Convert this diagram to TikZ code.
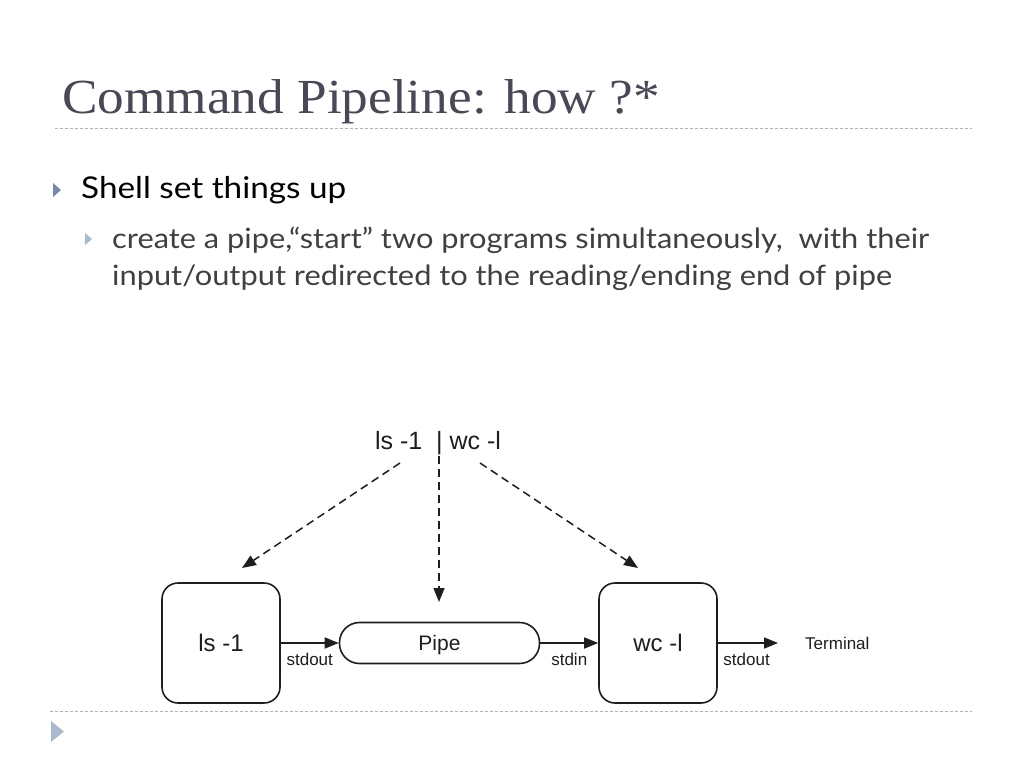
\documentclass[tikz,border=0pt]{standalone}
\usepackage{fontspec}
\setmainfont{Liberation Serif}
\newfontfamily\bodyfont{Lato}
\newfontfamily\diafont{Liberation Sans}
\usetikzlibrary{arrows.meta}
\definecolor{titlec}{RGB}{72,72,86}
\definecolor{sepc}{RGB}{165,182,204}
\definecolor{bulletc}{RGB}{120,136,168}
\definecolor{bulletl}{RGB}{168,186,206}
\definecolor{subc}{RGB}{64,64,64}
\definecolor{diac}{RGB}{30,30,30}
\tikzset{
  sepline/.style={sepc, line width=1pt, dash pattern=on 3pt off 2pt},
  prog/.style={draw=diac, line width=1.6pt, rounded corners=16pt, minimum width=118pt, minimum height=120pt, font=\diafont\fontsize{24}{24}\selectfont, text=diac, inner sep=0pt},
  pipebox/.style={draw=diac, line width=1.6pt, rounded corners=20pt, minimum width=200pt, minimum height=41pt, font=\diafont\fontsize{21}{21}\selectfont, text=diac, inner sep=0pt, text depth=0pt},
  arr/.style={diac, line width=1.6pt, -{Triangle[length=14pt,width=11pt]}},
  darr/.style={diac, line width=1.5pt, dash pattern=on 8pt off 5pt, -{Triangle[length=14pt,width=11pt]}},
  small/.style={font=\diafont\fontsize{17}{17}\selectfont, text=diac, inner sep=0pt},
}
\begin{document}
\begin{tikzpicture}[x=1pt,y=-1pt]
\useasboundingbox[fill=white] (0,0) rectangle (1024,768);
% title
\node[anchor=base west, inner sep=0pt, text=titlec, font=\fontsize{49}{49}\selectfont] (title) at (62,113) {\scalebox{1.087}[1]{Command Pipeline: how ?*}};
\draw[sepline] (55,128) -- (972,128);
\draw[sepline] (50,711) -- (972,711);
% bullets
\fill[bulletc] (53,183) -- (61,190) -- (53,197) -- cycle;
\fill[bulletl] (85,233) -- (92,239) -- (85,245) -- cycle;
\fill[bulletl] (51,721) -- (64,731.5) -- (51,742) -- cycle;
\node[anchor=base west, inner sep=0pt, font=\bodyfont\fontsize{30}{30}\selectfont] (b1) at (81,198) {\scalebox{1.11}[1]{Shell set things up}};
\node[anchor=base west, inner sep=0pt, text=subc, font=\bodyfont\fontsize{28}{28}\selectfont] (b2) at (112,248) {\scalebox{1.1}[1]{create a pipe,“start” two programs simultaneously,\ \ with their}};
\node[anchor=base west, inner sep=0pt, text=subc, font=\bodyfont\fontsize{28}{28}\selectfont] (b3) at (112,285) {\scalebox{1.1}[1]{input/output redirected to the reading/ending end of pipe}};
% diagram
\node[inner sep=0pt, font=\diafont\fontsize{25}{25}\selectfont, text=diac] (top) at (438,443) {ls -1 \ | wc -l};
\node[prog] (ls) at (221,643) {ls -1};
\node[pipebox] (pipe) at (439.5,643) {Pipe};
\node[prog] (wc) at (658,643) {wc -l};
\node[small, anchor=west] (term) at (805,643) {Terminal};
\coordinate (s1) at (400,463);
\coordinate (s2) at (439,456);
\coordinate (s3) at (480,463);
\coordinate (t1) at (242,568);
\coordinate (t2) at (439,602);
\coordinate (t3) at (638,568);
\draw[darr] (s1) -- (t1);
\draw[darr] (s2) -- (t2);
\draw[darr] (s3) -- (t3);
\draw[arr] (ls.east) -- (pipe.west) node[small, midway, below=9pt] (l1) {stdout};
\draw[arr] (pipe.east) -- (wc.west) node[small, midway, below=9pt] (l2) {stdin};
\draw[arr] (wc.east) -- (term.west) [shorten >=27pt] node[small, pos=0.33, below=9pt] (l3) {stdout};
\end{tikzpicture}
\end{document}
